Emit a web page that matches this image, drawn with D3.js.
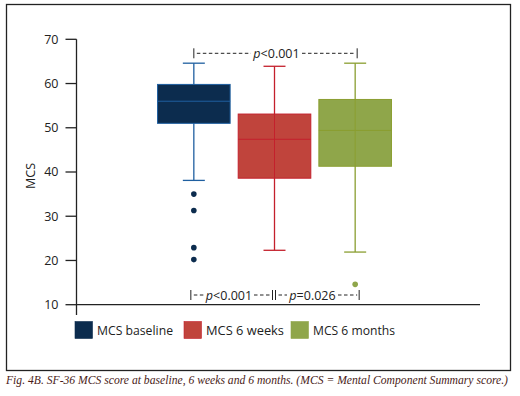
<!DOCTYPE html>
<html>
<head>
<meta charset="utf-8">
<script src="https://cdn.jsdelivr.net/npm/d3@7"></script>
<style>
  body { margin: 0; background: #fff; }
  svg { display: block; }
  text { font-family: "Open Sans", "Noto Sans", sans-serif; }
  text.caption { font-family: "Liberation Serif", "DejaVu Serif", serif; }
</style>
</head>
<body>
<svg id="chart" width="520" height="396"></svg>
<script>
// data
const groups = ["MCS baseline", "MCS 6 weeks", "MCS 6 months"];
const whiskerLow = [38.1, 22.3, 21.9];
const q1 = [51.0, 38.6, 41.3];
const median = [56.0, 47.4, 49.4];
const q3 = [59.8, 53.1, 56.4];
const whiskerHigh = [64.6, 63.9, 64.6];
const outliers = [[35.0, 31.3, 22.9, 20.2], [], [14.6]];
const yTicks = [10, 20, 30, 40, 50, 60, 70];

const fills = ["#0c2c4e", "#c0443c", "#8fa64a"];
const strokes = ["#1f5fa0", "#c4202c", "#8a9e30"];

const svg = d3.select("#chart");

// outer frame
svg.append("rect")
  .attr("x", 6.5).attr("y", 4.5)
  .attr("width", 504).attr("height", 366)
  .attr("fill", "none").attr("stroke", "#222").attr("stroke-width", 1.3);

const y = d3.scaleLinear().domain([10, 70]).range([304.7, 39.3]);
const x = d3.scaleBand().domain(groups).range([153.5, 395.5])
  .paddingInner(0.1).paddingOuter(0.05);

// y axis
const yAxis = svg.append("g").attr("transform", "translate(76.5,0)");
yAxis.append("line").attr("y1", y(70)).attr("y2", 315)
  .attr("stroke", "#222").attr("stroke-width", 1.3);
yAxis.selectAll(".tick").data(yTicks).join("g")
  .attr("transform", d => `translate(0,${y(d)})`)
  .call(g => g.append("line").attr("x1", -11).attr("x2", 0)
    .attr("stroke", "#222").attr("stroke-width", 1.3))
  .call(g => g.append("text").attr("x", -18).attr("dy", "0.35em")
    .attr("text-anchor", "end").attr("font-size", 12.5).attr("fill", "#222")
    .text(d => d));

svg.append("text")
  .attr("transform", `translate(35,${y(40) + 4}) rotate(-90)`)
  .attr("text-anchor", "middle").attr("font-size", 12.5).attr("fill", "#222")
  .text("MCS");

// x axis line
svg.append("line").attr("x1", 76).attr("x2", 480)
  .attr("y1", y(10)).attr("y2", y(10))
  .attr("stroke", "#222").attr("stroke-width", 1.3);

// boxes
const bw = x.bandwidth();
groups.forEach((gname, i) => {
  const cx = x(gname) + bw / 2;
  const g = svg.append("g");
  const cap = 11;
  // whiskers
  g.append("line").attr("x1", cx).attr("x2", cx)
    .attr("y1", y(whiskerHigh[i])).attr("y2", y(whiskerLow[i]))
    .attr("stroke", strokes[i]).attr("stroke-width", 1.3);
  g.append("line").attr("x1", cx - cap).attr("x2", cx + cap)
    .attr("y1", y(whiskerHigh[i])).attr("y2", y(whiskerHigh[i]))
    .attr("stroke", strokes[i]).attr("stroke-width", 1.3);
  g.append("line").attr("x1", cx - cap).attr("x2", cx + cap)
    .attr("y1", y(whiskerLow[i])).attr("y2", y(whiskerLow[i]))
    .attr("stroke", strokes[i]).attr("stroke-width", 1.3);
  // box
  g.append("rect").attr("x", x(gname)).attr("width", bw)
    .attr("y", y(q3[i])).attr("height", y(q1[i]) - y(q3[i]))
    .attr("fill", fills[i]).attr("stroke", strokes[i]).attr("stroke-width", 1);
  if (i > 0) {
    g.append("line").attr("x1", cx).attr("x2", cx)
      .attr("y1", y(q3[i])).attr("y2", y(q1[i]))
      .attr("stroke", strokes[i]).attr("stroke-width", 1);
  }
  g.append("line").attr("x1", x(gname)).attr("x2", x(gname) + bw)
    .attr("y1", y(median[i])).attr("y2", y(median[i]))
    .attr("stroke", strokes[i]).attr("stroke-width", 1);
  // outliers
  g.selectAll("circle").data(outliers[i]).join("circle")
    .attr("cx", cx).attr("cy", d => y(d)).attr("r", 2.8)
    .attr("fill", fills[i]);
});

// significance brackets
function bracket(yy, x1, x2, label, tx1, tx2) {
  const g = svg.append("g").attr("stroke", "#222").attr("stroke-width", 1);
  g.append("line").attr("x1", x1).attr("x2", x1).attr("y1", yy - 5).attr("y2", yy + 5);
  g.append("line").attr("x1", x2).attr("x2", x2).attr("y1", yy - 5).attr("y2", yy + 5);
  g.append("line").attr("x1", x1 + 3).attr("x2", tx1 - 2).attr("y1", yy).attr("y2", yy)
    .attr("stroke-dasharray", "3.5,2.5");
  g.append("line").attr("x1", tx2 + 2).attr("x2", x2 - 2).attr("y1", yy).attr("y2", yy)
    .attr("stroke-dasharray", "3.5,2.5");
  const t = svg.append("text").attr("x", (tx1 + tx2) / 2).attr("y", yy + 4.5)
    .attr("text-anchor", "middle").attr("font-size", 12.5).attr("fill", "#222");
  t.append("tspan").attr("font-style", "italic").text("p");
  t.append("tspan").text(label);
}
const c0 = x(groups[0]) + bw / 2, c1 = x(groups[1]) + bw / 2, c2 = x(groups[2]) + bw / 2;
bracket(53.3, c0, c2 + 2, "<0.001", 253, 300);
bracket(295, c0 - 3, c1 - 2, "<0.001", 206, 252);
bracket(295, c1 + 1, c2 + 4, "=0.026", 289, 336);

// legend
const legX = [75, 184, 291];
const legW = [76, 78, 82];
groups.forEach((gname, i) => {
  svg.append("rect").attr("x", legX[i]).attr("y", 321.5)
    .attr("width", 17.5).attr("height", 17)
    .attr("fill", fills[i]).attr("stroke", i === 1 ? "#c4202c" : fills[i]).attr("stroke-width", 0.6);
  svg.append("text").attr("x", legX[i] + 22).attr("y", 335)
    .attr("font-size", 12.5).attr("fill", "#222")
    .attr("textLength", legW[i]).attr("lengthAdjust", "spacingAndGlyphs")
    .text(gname);
});

// caption
svg.append("text").attr("class", "caption").attr("x", 6).attr("y", 384)
  .attr("font-style", "italic").attr("font-size", 11.5).attr("fill", "#4a1c18")
  .attr("textLength", 502).attr("lengthAdjust", "spacingAndGlyphs")
  .text("Fig. 4B. SF-36 MCS score at baseline, 6 weeks and 6 months. (MCS = Mental Component Summary score.)");
</script>
</body>
</html>
